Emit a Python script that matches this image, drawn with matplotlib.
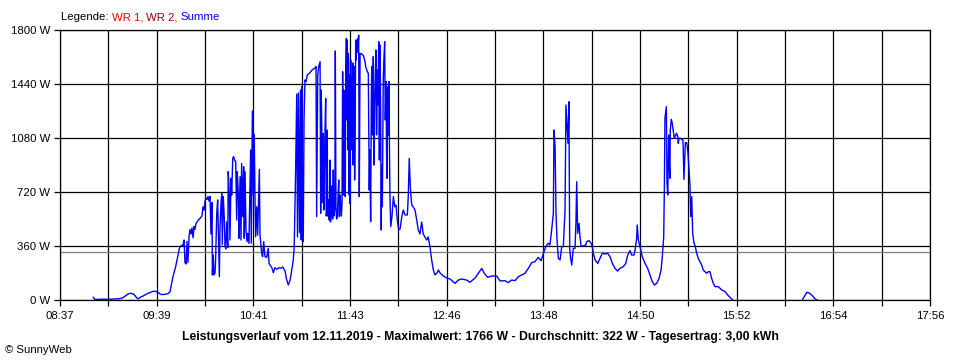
import matplotlib
matplotlib.use('Agg')
import matplotlib.pyplot as plt
import numpy as np

plt.rcParams['font.family'] = ['Liberation Sans', 'DejaVu Sans']

# time axis (minutes after midnight) and tick labels
t_start, t_end = 517, 1076
x_tick_labels = ['08:37', '09:39', '10:41', '11:43', '12:46', '13:48',
                 '14:50', '15:52', '16:54', '17:56']
y_ticks = [0, 360, 720, 1080, 1440, 1800]
average_w = 322

# Summe power curve: time (minutes after midnight) and power (W)
minutes = [538.4, 539.5, 542.1, 549.1, 554.3, 556.8, 558.8, 560.7, 562.6, 564.5, 566.5, 567.1,
           569.0, 571.0, 572.9, 574.8, 576.8, 578.7, 580.0, 581.3, 582.5, 584.5, 586.4, 587.7,
           588.3, 589.6, 591.3, 592.6, 593.7, 594.7, 596.0, 596.7, 597.3, 598.0, 598.6, 599.2,
           599.9, 600.5, 601.2, 601.8, 602.5, 603.1, 603.7, 604.4, 605.7, 607.0, 608.2, 608.9,
           609.5, 610.2, 610.8, 611.5, 612.1, 612.7, 613.4, 614.0, 614.7, 614.9, 615.5, 615.9,
           616.6, 617.0, 617.7, 618.3, 618.7, 619.4, 619.8, 620.4, 620.9, 621.3, 621.9, 622.6,
           623.0, 623.5, 624.1, 624.8, 625.1, 625.8, 626.2, 626.9, 627.3, 628.0, 628.6, 629.2,
           629.9, 630.5, 630.9, 631.6, 632.0, 632.7, 633.3, 633.7, 634.4, 635.0, 635.4, 635.9,
           636.5, 637.2, 637.6, 638.4, 639.1, 639.5, 639.9, 640.6, 641.2, 641.8, 642.3, 642.7,
           643.4, 644.0, 645.1, 645.5, 646.1, 646.6, 647.2, 647.9, 648.7, 649.8, 650.8, 651.3,
           651.9, 653.0, 654.1, 655.1, 656.4, 657.7, 659.0, 660.3, 660.9, 661.6, 662.5, 663.7,
           664.8, 665.4, 666.9, 667.5, 668.4, 669.1, 669.6, 670.2, 670.9, 671.5, 672.0, 672.3,
           672.8, 673.3, 673.8, 674.4, 675.1, 675.9, 677.2, 678.1, 679.4, 680.8, 681.5, 681.9,
           682.6, 683.2,
           684.1, 684.5, 684.8, 685.2, 685.5, 685.8, 686.2, 686.5, 686.8, 687.3, 687.7, 687.9,
           688.1, 688.4, 688.7, 689.0, 689.4, 690.0, 690.3, 690.5, 690.8, 691.1, 691.5, 691.8,
           692.2, 692.6, 692.9, 693.2, 693.6, 693.9, 694.3, 694.7, 695.2, 695.6, 696.1, 696.5,
           697.0, 697.4, 697.8, 698.2, 698.6, 699.0, 699.4, 699.7, 700.0, 700.3, 700.6, 701.0,
           701.3, 701.6, 702.0, 702.2, 702.5, 702.7, 703.0, 703.3, 703.6, 703.8, 704.1, 704.4,
           704.7, 705.1, 705.3, 705.5, 705.8, 706.1, 706.3, 706.5, 706.8, 707.0, 707.3, 707.6,
           708.0, 708.3, 708.6, 708.9, 709.3, 709.8, 710.9, 711.9,
           713.0, 713.5, 714.1, 714.6, 715.1, 715.4, 715.7, 716.1, 716.6, 717.0, 717.3, 717.8,
           718.3, 718.7, 719.2, 719.6, 720.0, 720.4, 720.9, 721.3, 721.8, 722.2, 722.6, 723.0,
           723.4, 723.7, 724.1, 724.4, 724.7, 725.1, 725.6, 726.0, 726.5, 726.8, 727.1, 727.4,
           727.7, 728.0, 728.4, 728.7, 729.0, 729.5,
           730.3, 731.2, 732.1, 732.9, 733.7, 734.6, 735.5, 736.6, 737.6, 738.7, 740.2, 740.8,
           741.4, 742.1, 743.0, 744.0, 745.1, 746.2, 747.2, 748.3, 749.4, 750.4, 751.5, 752.6,
           753.6, 754.7, 755.8, 756.9, 757.9, 759.2, 760.1, 761.2, 763.3, 765.5, 767.6, 770.8,
           772.9, 775.1, 778.3, 780.4, 783.7, 785.8, 788.0, 789.6, 791.8, 794.4, 797.6, 799.7,
           802.9, 805.0, 807.2, 809.4, 811.5, 813.7, 815.8, 817.9, 820.1, 822.2, 824.3, 826.1,
           827.5, 829.1, 830.7, 831.8, 832.9, 834.0, 834.4, 835.1, 835.7, 836.3, 837.2, 838.3,
           839.4, 840.4, 841.5, 842.1, 842.8, 843.4, 844.0, 844.5, 845.1, 845.8, 846.8, 847.9,
           848.5, 849.0, 849.6, 850.5, 851.1, 851.8, 853.2, 854.8, 855.4, 856.9, 858.2, 859.0,
           859.7, 860.8, 862.5, 864.0, 865.4, 867.2, 868.9, 870.4, 871.9, 873.6, 875.3, 876.8,
           878.9, 880.5, 881.8, 883.2, 884.3, 885.8, 886.5, 887.5, 887.9, 888.6, 889.7, 891.1,
           892.9, 894.6, 896.1, 897.6, 898.9, 900.4, 901.9, 903.2, 904.0, 904.9, 905.3, 905.7,
           906.6, 907.0, 907.5, 908.1, 908.5, 908.9, 909.1, 909.8, 910.4, 911.1, 911.7, 912.6,
           913.2, 913.9, 914.3, 914.7, 915.4, 916.5, 917.3, 917.9, 918.8, 919.7, 920.5, 921.2,
           921.8, 922.2, 922.9, 923.5, 924.4, 925.2, 926.1, 927.1, 928.2, 929.3, 930.3, 931.4,
           932.5, 933.6, 934.6, 935.7, 936.8, 937.9, 940.0, 942.2, 944.3, 946.4, 948.6, 949.2,
           970.0,
           994.2, 995.2, 996.8, 998.4, 1000.6, 1002.1, 1003.6]
watts = [18, 3, 5, 5, 8, 12, 25, 40, 45, 38, 12, 8,
         20, 30, 42, 50, 58, 57, 50, 40, 36, 38, 42, 55,
         89, 156, 222, 289, 344, 362, 365, 400, 250, 240, 390, 250,
         420, 470, 440, 480, 415, 490, 470, 510, 530, 545, 560, 620,
         600, 660, 680, 670, 690, 660, 690, 440, 650, 167, 300, 167,
         180, 270, 578, 667, 470, 156, 480, 633, 711, 370, 690, 540,
         367, 340, 520, 350, 856, 700, 400, 811, 700, 944, 956, 933,
         922, 533, 856, 700, 411, 822, 400, 911, 556, 889, 411, 856,
         467, 389, 444, 378, 800, 1000, 378, 1260, 700, 1104, 667, 422,
         622, 433, 871, 433, 367, 311, 289, 389, 289, 284, 344, 244,
         233, 218, 182, 215, 205, 215, 212, 220, 205, 195, 140, 100,
         130, 167, 267, 360, 867, 1373, 420, 1380, 450, 1400, 400, 1422,
         420, 390, 1200, 1467, 1456, 1500, 1511, 1522, 1538, 1545, 1556, 556,
         1500, 1556,
         1589, 578, 1400, 1156, 650, 1000, 1111, 600, 756, 1133, 1344, 1000,
         560, 600, 1133, 560, 667, 533, 800, 933, 520, 556, 760, 600,
         540, 867, 560, 578, 620, 1660, 622, 540, 556, 680, 800, 556,
         700, 622, 560, 644, 1522, 700, 1400, 1211, 720, 689, 1500, 1744,
         1200, 1733, 1000, 1644, 1600, 700, 1500, 644, 1200, 1600, 1100, 1489,
         1000, 1580, 900, 1444, 1100, 1556, 800, 1022, 1500, 1733, 1600, 1733,
         1650, 1744, 1700, 1766, 689, 1644, 1640, 1630,
         1589, 1550, 1533, 1520, 1511, 1100, 733, 1000, 522, 1300, 1556, 1100,
         1622, 900, 1289, 1500, 1667, 1100, 1533, 1300, 1722, 933, 1700, 1300,
         467, 900, 622, 1000, 1467, 1600, 1722, 1200, 1456, 1000, 811, 1200,
         1422, 1100, 1456, 1000, 700, 489,
         556, 689, 622, 633, 533, 467, 473, 556, 600, 567, 567, 700,
         944, 750, 633, 620, 600, 533, 467, 440, 520, 440, 420, 400,
         420, 356, 267, 200, 167, 180, 200, 180, 160, 147, 140, 111,
         133, 140, 133, 118, 147, 178, 211, 178, 151, 160, 160, 127,
         129, 116, 133, 129, 156, 167, 178, 211, 249, 256, 284, 262,
         307, 356, 378, 367, 467, 578, 1133, 1022, 578, 411, 278, 267,
         356, 356, 600, 1300, 1167, 1044, 1322, 344, 278, 233, 344, 344,
         511, 789, 444, 511, 422, 360, 360, 367, 389, 396, 378, 356,
         311, 267, 244, 278, 311, 307, 311, 289, 244, 211, 193, 211,
         222, 244, 300, 329, 300, 300, 333, 411, 500, 400, 356, 289,
         244, 211, 167, 122, 100, 111, 144, 200, 289, 422, 733, 1211,
         1289, 778, 700, 1100, 900, 811, 1133, 1204, 1178, 1122, 1078, 1100,
         1111, 1090, 1044, 1078, 1080, 1070, 1065, 804, 1049, 1049, 978, 867,
         756, 556, 689, 444, 378, 356, 311, 278, 256, 233, 200, 189,
         178, 189, 189, 144, 111, 89, 89, 67, 56, 29, 7, 0,
         None,
         5, 22, 51, 47, 27, 7, 0]

title = ("Leistungsverlauf vom 12.11.2019 - Maximalwert: 1766 W - "
         "Durchschnitt: 322 W - Tagesertrag: 3,00 kWh")
legend_parts = [('WR 1, ', '#FF0000'), ('WR 2, ', '#A00000'), ('Summe', '#0000FF')]

fig = plt.figure(figsize=(9.6, 3.6), dpi=100)
ax = fig.add_axes([60 / 960, 60 / 360, 870 / 960, 270 / 360])
ax.set_xlim(t_start, t_end)
ax.set_ylim(0, 1800)

grid_x = np.linspace(t_start, t_end, 2 * len(x_tick_labels) - 1)
ax.set_xticks(grid_x)
ax.set_xticklabels([x_tick_labels[i // 2] if i % 2 == 0 else '' for i in range(len(grid_x))])
ax.set_yticks(y_ticks)
ax.set_yticklabels([f'{v} W' for v in y_ticks])

ax.grid(True, color='black', linewidth=0.9)
ax.set_axisbelow(True)
ax.axhline(average_w, color='#808080', linewidth=0.9, zorder=1.5)
ax.plot(minutes, np.array(watts, dtype=float), color='#0000FF', linewidth=1.0, zorder=3)

for s in ax.spines.values():
    s.set_color('black')
    s.set_linewidth(0.9)
ax.tick_params(length=4, width=0.9, colors='black', labelsize=8.2)
ax.tick_params(axis='x', pad=4)
ax.tick_params(axis='y', pad=3)

fig.text(480 / 960, 1 - 337 / 360, title, ha='center', va='center',
         fontweight='bold', fontsize=8.8)
fig.text(5 / 960, 1 - 350 / 360, '\u00a9 SunnyWeb', ha='left', va='center', fontsize=8.2)

prev = fig.text(61 / 960, 1 - 17 / 360, 'Legende: ', ha='left', va='center',
                fontsize=8.2, color='black')
for txt, col in legend_parts:
    prev = ax.annotate(txt, xy=(1, 0), xycoords=prev, xytext=(0, 0), textcoords='offset points',
                       ha='left', va='bottom', fontsize=8.2, color=col, annotation_clip=False)

fig.savefig('out.png', dpi=100)
